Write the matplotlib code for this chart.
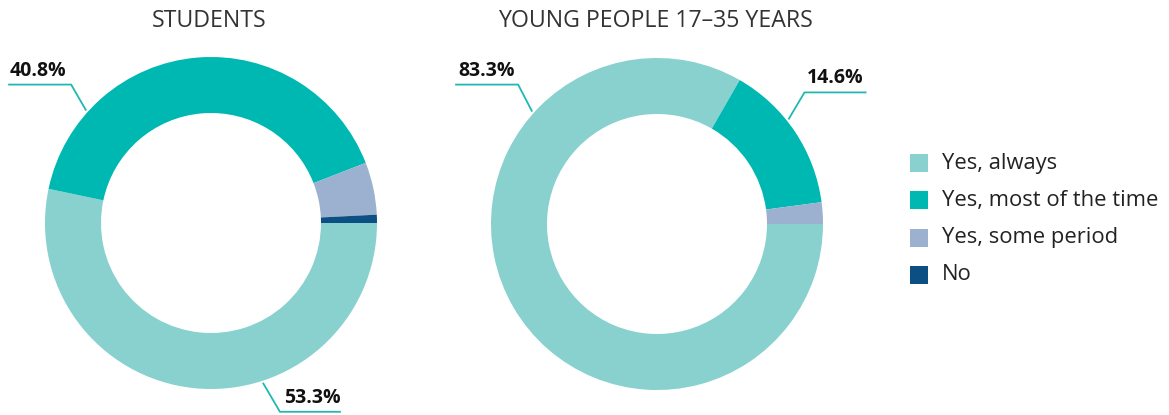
import matplotlib
matplotlib.use("Agg")
import matplotlib.pyplot as plt
import numpy as np

plt.rcParams['font.family'] = ['Open Sans', 'DejaVu Sans']

categories = ["Yes, always", "Yes, most of the time", "Yes, some period", "No"]
students = [53.3, 40.8, 5.1, 0.8]
young = [83.3, 14.6, 2.1, 0.0]
titles = ["STUDENTS", "YOUNG PEOPLE 17\u201335 YEARS"]
colors = ["#88D1CF", "#00B8B2", "#9BB1CF", "#0B4F83"]
line_color = "#1FB8B3"

W, H = 1169, 415
fig = plt.figure(figsize=(W / 100, H / 100), dpi=100)
ax = fig.add_axes([0, 0, 1, 1])

R, WIDTH = 166, 56
centers = [(211, H - 223), (657, H - 224)]

for data, (cx, cy) in zip([students, young], centers):
    ax.pie(data, colors=colors, startangle=0, counterclock=False,
           radius=R, center=(cx, cy),
           wedgeprops=dict(width=WIDTH, edgecolor='none', linewidth=0))

for t, (cx, cy) in zip(titles, centers):
    ax.text(cx - 2, H - 21, t, ha='center', va='center', fontsize=16.7, color='#333333')

def leader(ci, value, ang, elbow, end, tx_off):
    cx, cy = centers[ci]
    a = np.deg2rad(ang)
    x0, y0 = cx + (R + 2) * np.cos(a), cy + (R + 2) * np.sin(a)
    ex, ey = x0 + elbow[0], y0 + elbow[1]
    fx, fy = ex + end, ey
    ax.plot([x0, ex, fx], [y0, ey, ey], color=line_color, lw=1.3, solid_capstyle='butt')
    tx = (ex + fx) / 2 + tx_off
    ax.text(tx, ey + 14, f"{value:.1f}%", ha='center', va='center',
            fontsize=14, fontweight='bold', color='#111111')

leader(0, students[1], 138, (-15, 26), -63, -2)
leader(0, students[0], -72, (17, -29), 61, 2)
leader(1, young[0], 138, (-14, 27), -63, 0)
leader(1, young[1], 38.5, (16, 27), 62, 0)

# legend
lx, ly0, dy = 910, H - 163, 37.3
for i, (c, lab) in enumerate(zip(colors, categories)):
    y = ly0 - i * dy
    ax.add_patch(plt.Rectangle((lx, y - 9), 18, 18, color=c, lw=0))
    ax.text(lx + 32, y, lab, ha='left', va='center', fontsize=15.8, color='#222222')

ax.set_xlim(0, W)
ax.set_ylim(0, H)
ax.set_aspect('auto')
ax.axis('off')

fig.savefig("out.png", dpi=100, facecolor='white')
